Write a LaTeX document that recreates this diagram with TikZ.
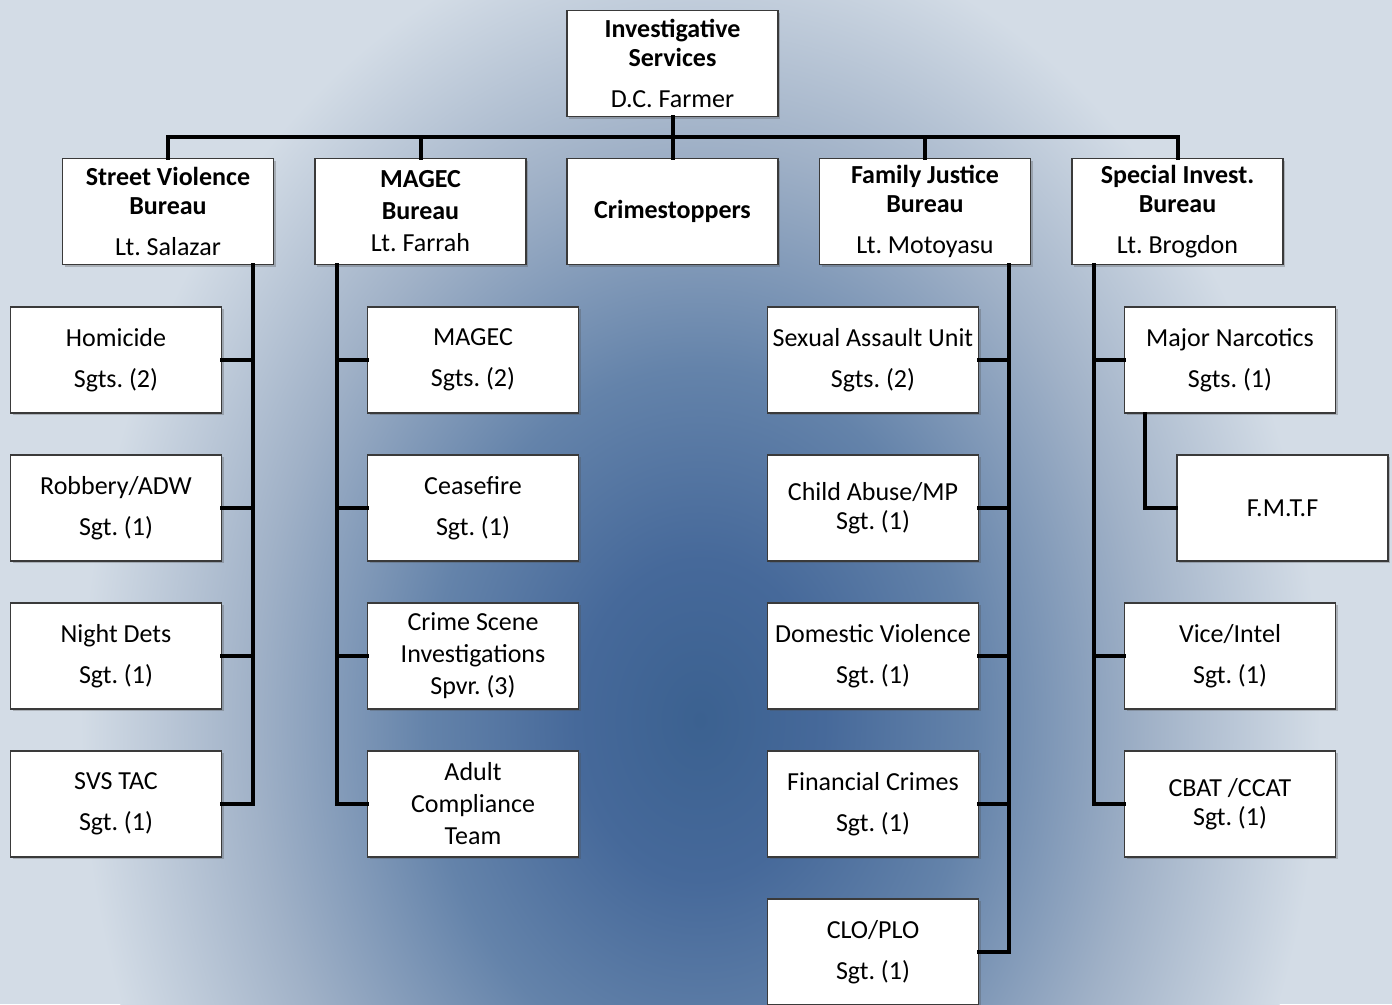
\documentclass[tikz,border=0pt]{standalone}
\usepackage{fontspec}
\setmainfont{Carlito}
\frenchspacing
\usetikzlibrary{shadows,calc}
\definecolor{bgin}{HTML}{3B6190}
\definecolor{bgin2}{HTML}{46699A}
\definecolor{bgmid}{HTML}{6483AA}
\definecolor{bgmid2}{HTML}{A0B1C7}
\definecolor{bgout}{HTML}{D3DCE6}
\definecolor{boxline}{HTML}{3A3A3A}
\pgfdeclareradialshading{bgshade}{\pgfpoint{0bp}{0bp}}{color(0bp)=(bgin); color(5bp)=(bgin2); color(11bp)=(bgmid); color(18bp)=(bgmid2); color(25bp)=(bgout); color(50bp)=(bgout)}
\tikzset{
  orgbox/.style={draw=boxline, line width=0.9pt, fill=white, minimum width=158.25pt, minimum height=79.5pt, inner sep=2pt, align=center, font=\fontsize{19.5}{22}\selectfont, drop shadow={shadow xshift=1.5pt, shadow yshift=-1.5pt, opacity=0.3, fill=black!70}},
  headbox/.style={orgbox},
  conn/.style={line width=3pt, black, line cap=rect}
}
\begin{document}
\begin{tikzpicture}[x=0.75pt, y=-0.75pt]
\useasboundingbox (0,0) rectangle (1392,1004);
\begin{scope}
\clip (0,0) rectangle (1392,1004);
\fill[bgout] (0,0) rectangle (1392,1004);
\shade[shading=bgshade] (700,720) ellipse [x radius=620, y radius=800];
\end{scope}

% top
\node[headbox] (top) at (672.5,63.5) {\textbf{Investigative}\\\textbf{Services}\\[9pt]D.C. Farmer};
% level 2
\node[headbox] (svb) at (168,211.5) {\textbf{Street Violence}\\\textbf{Bureau}\\[9pt]Lt. Salazar};
\node[headbox] (magec) at (420.5,211.5) {\textbf{MAGEC}\\[2pt]\textbf{Bureau}\\[2pt]Lt. Farrah};
\node[headbox] (crime) at (672.5,211.5) {\textbf{Crimestoppers}};
\node[headbox] (fjb) at (925,211.5) {\textbf{Family Justice}\\\textbf{Bureau}\\[9pt]Lt. Motoyasu};
\node[headbox] (sib) at (1177.5,211.5) {\textbf{Special Invest.}\\\textbf{Bureau}\\[9pt]Lt. Brogdon};

% SVB children
\node[orgbox] (sv1) at (116,360) {Homicide\\[9pt]Sgts. (2)};
\node[orgbox] (sv2) at (116,508) {Robbery/ADW\\[9pt]Sgt. (1)};
\node[orgbox] (sv3) at (116,656) {Night Dets\\[9pt]Sgt. (1)};
\node[orgbox] (sv4) at (116,804) {SVS TAC\\[9pt]Sgt. (1)};
% MAGEC children
\node[orgbox] (mg1) at (473,360) {MAGEC\\[9pt]Sgts. (2)};
\node[orgbox] (mg2) at (473,508) {Ceasefire\\[9pt]Sgt. (1)};
\node[orgbox] (mg3) at (473,656) {Crime Scene\\[2pt]Investigations\\[2pt]Spvr. (3)};
\node[orgbox] (mg4) at (473,804) {Adult\\[2pt]Compliance\\[2pt]Team};
% FJB children
\node[orgbox] (fj1) at (873,360) {Sexual Assault Unit\\[9pt]Sgts. (2)};
\node[orgbox] (fj2) at (873,508) {Child Abuse/MP\\Sgt. (1)};
\node[orgbox] (fj3) at (873,656) {Domestic Violence\\[9pt]Sgt. (1)};
\node[orgbox] (fj4) at (873,804) {Financial Crimes\\[9pt]Sgt. (1)};
\node[orgbox] (fj5) at (873,952) {CLO/PLO\\[9pt]Sgt. (1)};
% SIB children
\node[orgbox] (si1) at (1230,360) {Major Narcotics\\[9pt]Sgts. (1)};
\node[orgbox] (fmtf) at (1282.5,508) {F.M.T.F};
\node[orgbox] (si2) at (1230,656) {Vice/Intel\\[9pt]Sgt. (1)};
\node[orgbox] (si3) at (1230,804) {CBAT /CCAT\\Sgt. (1)};

% top connectors
\coordinate (bus) at (0,137);
\draw[conn] (top.south) -- (crime.north);
\draw[conn] (svb.north) -- (svb.north |- bus) -- (sib.north |- bus) -- (sib.north);
\draw[conn] (magec.north) -- (magec.north |- bus);
\draw[conn] (fjb.north) -- (fjb.north |- bus);

% spines
\coordinate (svsp) at ([xshift=-15.75pt]svb.south east);
\coordinate (mgsp) at ([xshift=17.25pt]magec.south west);
\coordinate (fjsp) at ([xshift=-16.5pt]fjb.south east);
\coordinate (sisp) at ([xshift=17.25pt]sib.south west);
\coordinate (mnsp) at ([xshift=15.75pt]si1.south west);

\draw[conn] (svsp) |- (sv4.east);
\foreach \k in {sv1,sv2,sv3} \draw[conn] (\k.east) -- (\k.east -| svsp);
\draw[conn] (mgsp) |- (mg4.west);
\foreach \k in {mg1,mg2,mg3} \draw[conn] (\k.west) -- (\k.west -| mgsp);
\draw[conn] (fjsp) |- (fj5.east);
\foreach \k in {fj1,fj2,fj3,fj4} \draw[conn] (\k.east) -- (\k.east -| fjsp);
\draw[conn] (sisp) |- (si3.west);
\foreach \k in {si1,si2} \draw[conn] (\k.west) -- (\k.west -| sisp);
\draw[conn] (mnsp) |- (fmtf.west);
\end{tikzpicture}
\end{document}
